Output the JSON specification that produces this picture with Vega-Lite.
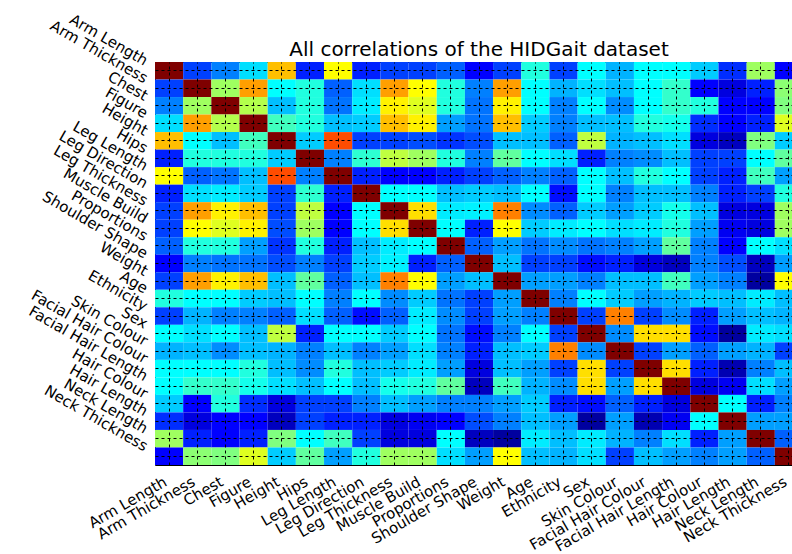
{
  "$schema": "https://vega.github.io/schema/vega-lite/v6.json",
  "autosize": "none",
  "padding": {"left": 155, "top": 62, "right": -11, "bottom": 89},
  "width": 648,
  "height": 403,
  "background": "white",
  "title": {"text": "All correlations of the HIDGait dataset", "font": "DejaVu Sans", "fontSize": 20, "fontWeight": "normal", "color": "black", "offset": -48, "frame": "group"},
  "config": {"view": {"stroke": "black", "strokeWidth": 1}},
  "datasets": {
    "names": [
      {"k": 0, "n": "Arm Length"}, {"k": 1, "n": "Arm Thickness"}, {"k": 2, "n": "Chest"}, {"k": 3, "n": "Figure"},
      {"k": 4, "n": "Height"}, {"k": 5, "n": "Hips"}, {"k": 6, "n": "Leg Length"}, {"k": 7, "n": "Leg Direction"},
      {"k": 8, "n": "Leg Thickness"}, {"k": 9, "n": "Muscle Build"}, {"k": 10, "n": "Proportions"}, {"k": 11, "n": "Shoulder Shape"},
      {"k": 12, "n": "Weight"}, {"k": 13, "n": "Age"}, {"k": 14, "n": "Ethnicity"}, {"k": 15, "n": "Sex"},
      {"k": 16, "n": "Skin Colour"}, {"k": 17, "n": "Facial Hair Colour"}, {"k": 18, "n": "Facial Hair Length"}, {"k": 19, "n": "Hair Colour"},
      {"k": 20, "n": "Hair Length"}, {"k": 21, "n": "Neck Length"}, {"k": 22, "n": "Neck Thickness"}
    ],
    "corr": [
{"i":0,"j":0,"v":1},{"i":0,"j":1,"v":-0.3},{"i":0,"j":2,"v":-0.2},{"i":0,"j":3,"v":-0.05},{"i":0,"j":4,"v":0.5},{"i":0,"j":5,"v":-0.35},{"i":0,"j":6,"v":0.4},{"i":0,"j":7,"v":-0.35},{"i":0,"j":8,"v":-0.3},{"i":0,"j":9,"v":-0.3},{"i":0,"j":10,"v":-0.25},{"i":0,"j":11,"v":-0.4},{"i":0,"j":12,"v":-0.3},{"i":0,"j":13,"v":0.05},{"i":0,"j":14,"v":-0.3},{"i":0,"j":15,"v":0.0},{"i":0,"j":16,"v":-0.12},{"i":0,"j":17,"v":0.0},{"i":0,"j":18,"v":0.0},{"i":0,"j":19,"v":-0.08},{"i":0,"j":20,"v":-0.33},{"i":0,"j":21,"v":0.25},{"i":0,"j":22,"v":-0.4},
{"i":1,"j":0,"v":-0.3},{"i":1,"j":1,"v":1},{"i":1,"j":2,"v":0.25},{"i":1,"j":3,"v":0.55},{"i":1,"j":4,"v":0.0},{"i":1,"j":5,"v":0.05},{"i":1,"j":6,"v":-0.25},{"i":1,"j":7,"v":-0.05},{"i":1,"j":8,"v":0.55},{"i":1,"j":9,"v":0.4},{"i":1,"j":10,"v":0.05},{"i":1,"j":11,"v":-0.2},{"i":1,"j":12,"v":0.55},{"i":1,"j":13,"v":0.0},{"i":1,"j":14,"v":-0.12},{"i":1,"j":15,"v":-0.05},{"i":1,"j":16,"v":-0.1},{"i":1,"j":17,"v":0.0},{"i":1,"j":18,"v":0.08},{"i":1,"j":19,"v":-0.4},{"i":1,"j":20,"v":-0.45},{"i":1,"j":21,"v":-0.35},{"i":1,"j":22,"v":0.22},
{"i":2,"j":0,"v":-0.2},{"i":2,"j":1,"v":0.25},{"i":2,"j":2,"v":1},{"i":2,"j":3,"v":0.28},{"i":2,"j":4,"v":-0.1},{"i":2,"j":5,"v":0.05},{"i":2,"j":6,"v":-0.22},{"i":2,"j":7,"v":-0.03},{"i":2,"j":8,"v":0.42},{"i":2,"j":9,"v":0.35},{"i":2,"j":10,"v":0.05},{"i":2,"j":11,"v":-0.22},{"i":2,"j":12,"v":0.42},{"i":2,"j":13,"v":0.0},{"i":2,"j":14,"v":-0.2},{"i":2,"j":15,"v":0.0},{"i":2,"j":16,"v":-0.18},{"i":2,"j":17,"v":0.0},{"i":2,"j":18,"v":0.08},{"i":2,"j":19,"v":0.05},{"i":2,"j":20,"v":-0.4},{"i":2,"j":21,"v":-0.4},{"i":2,"j":22,"v":0.2},
{"i":3,"j":0,"v":-0.05},{"i":3,"j":1,"v":0.55},{"i":3,"j":2,"v":0.28},{"i":3,"j":3,"v":1},{"i":3,"j":4,"v":0.1},{"i":3,"j":5,"v":0.05},{"i":3,"j":6,"v":-0.1},{"i":3,"j":7,"v":-0.08},{"i":3,"j":8,"v":0.5},{"i":3,"j":9,"v":0.42},{"i":3,"j":10,"v":-0.15},{"i":3,"j":11,"v":-0.22},{"i":3,"j":12,"v":0.5},{"i":3,"j":13,"v":-0.08},{"i":3,"j":14,"v":-0.2},{"i":3,"j":15,"v":-0.1},{"i":3,"j":16,"v":-0.1},{"i":3,"j":17,"v":0.05},{"i":3,"j":18,"v":0.03},{"i":3,"j":19,"v":-0.33},{"i":3,"j":20,"v":-0.4},{"i":3,"j":21,"v":-0.35},{"i":3,"j":22,"v":0.35},
{"i":4,"j":0,"v":0.5},{"i":4,"j":1,"v":0.0},{"i":4,"j":2,"v":-0.1},{"i":4,"j":3,"v":0.1},{"i":4,"j":4,"v":1},{"i":4,"j":5,"v":-0.08},{"i":4,"j":6,"v":0.68},{"i":4,"j":7,"v":-0.3},{"i":4,"j":8,"v":-0.3},{"i":4,"j":9,"v":-0.28},{"i":4,"j":10,"v":-0.32},{"i":4,"j":11,"v":-0.28},{"i":4,"j":12,"v":-0.1},{"i":4,"j":13,"v":-0.1},{"i":4,"j":14,"v":-0.25},{"i":4,"j":15,"v":0.3},{"i":4,"j":16,"v":-0.12},{"i":4,"j":17,"v":-0.1},{"i":4,"j":18,"v":-0.05},{"i":4,"j":19,"v":-0.45},{"i":4,"j":20,"v":-0.5},{"i":4,"j":21,"v":0.2},{"i":4,"j":22,"v":-0.08},
{"i":5,"j":0,"v":-0.35},{"i":5,"j":1,"v":0.05},{"i":5,"j":2,"v":0.05},{"i":5,"j":3,"v":0.05},{"i":5,"j":4,"v":-0.08},{"i":5,"j":5,"v":1},{"i":5,"j":6,"v":-0.2},{"i":5,"j":7,"v":0.07},{"i":5,"j":8,"v":0.3},{"i":5,"j":9,"v":0.25},{"i":5,"j":10,"v":0.05},{"i":5,"j":11,"v":-0.2},{"i":5,"j":12,"v":0.15},{"i":5,"j":13,"v":0.0},{"i":5,"j":14,"v":-0.05},{"i":5,"j":15,"v":-0.35},{"i":5,"j":16,"v":-0.2},{"i":5,"j":17,"v":-0.18},{"i":5,"j":18,"v":-0.1},{"i":5,"j":19,"v":-0.3},{"i":5,"j":20,"v":-0.3},{"i":5,"j":21,"v":0.0},{"i":5,"j":22,"v":0.15},
{"i":6,"j":0,"v":0.4},{"i":6,"j":1,"v":-0.25},{"i":6,"j":2,"v":-0.22},{"i":6,"j":3,"v":-0.1},{"i":6,"j":4,"v":0.68},{"i":6,"j":5,"v":-0.2},{"i":6,"j":6,"v":1},{"i":6,"j":7,"v":-0.35},{"i":6,"j":8,"v":-0.4},{"i":6,"j":9,"v":-0.4},{"i":6,"j":10,"v":-0.35},{"i":6,"j":11,"v":-0.3},{"i":6,"j":12,"v":-0.25},{"i":6,"j":13,"v":-0.2},{"i":6,"j":14,"v":-0.25},{"i":6,"j":15,"v":0.0},{"i":6,"j":16,"v":-0.1},{"i":6,"j":17,"v":0.05},{"i":6,"j":18,"v":0.0},{"i":6,"j":19,"v":-0.3},{"i":6,"j":20,"v":-0.35},{"i":6,"j":21,"v":0.1},{"i":6,"j":22,"v":-0.15},
{"i":7,"j":0,"v":-0.35},{"i":7,"j":1,"v":-0.05},{"i":7,"j":2,"v":-0.03},{"i":7,"j":3,"v":-0.08},{"i":7,"j":4,"v":-0.3},{"i":7,"j":5,"v":0.07},{"i":7,"j":6,"v":-0.35},{"i":7,"j":7,"v":1},{"i":7,"j":8,"v":0.0},{"i":7,"j":9,"v":0.0},{"i":7,"j":10,"v":-0.1},{"i":7,"j":11,"v":-0.08},{"i":7,"j":12,"v":-0.1},{"i":7,"j":13,"v":0.0},{"i":7,"j":14,"v":-0.38},{"i":7,"j":15,"v":0.0},{"i":7,"j":16,"v":-0.2},{"i":7,"j":17,"v":-0.1},{"i":7,"j":18,"v":-0.1},{"i":7,"j":19,"v":-0.2},{"i":7,"j":20,"v":-0.35},{"i":7,"j":21,"v":-0.3},{"i":7,"j":22,"v":0.05},
{"i":8,"j":0,"v":-0.3},{"i":8,"j":1,"v":0.55},{"i":8,"j":2,"v":0.42},{"i":8,"j":3,"v":0.5},{"i":8,"j":4,"v":-0.3},{"i":8,"j":5,"v":0.3},{"i":8,"j":6,"v":-0.4},{"i":8,"j":7,"v":0.0},{"i":8,"j":8,"v":1},{"i":8,"j":9,"v":0.45},{"i":8,"j":10,"v":-0.03},{"i":8,"j":11,"v":-0.02},{"i":8,"j":12,"v":0.6},{"i":8,"j":13,"v":-0.18},{"i":8,"j":14,"v":-0.25},{"i":8,"j":15,"v":-0.08},{"i":8,"j":16,"v":-0.15},{"i":8,"j":17,"v":-0.08},{"i":8,"j":18,"v":0.03},{"i":8,"j":19,"v":-0.1},{"i":8,"j":20,"v":-0.45},{"i":8,"j":21,"v":-0.45},{"i":8,"j":22,"v":0.25},
{"i":9,"j":0,"v":-0.3},{"i":9,"j":1,"v":0.4},{"i":9,"j":2,"v":0.35},{"i":9,"j":3,"v":0.42},{"i":9,"j":4,"v":-0.28},{"i":9,"j":5,"v":0.25},{"i":9,"j":6,"v":-0.4},{"i":9,"j":7,"v":0.0},{"i":9,"j":8,"v":0.45},{"i":9,"j":9,"v":1},{"i":9,"j":10,"v":0.0},{"i":9,"j":11,"v":-0.35},{"i":9,"j":12,"v":0.4},{"i":9,"j":13,"v":-0.08},{"i":9,"j":14,"v":-0.03},{"i":9,"j":15,"v":0.0},{"i":9,"j":16,"v":-0.05},{"i":9,"j":17,"v":-0.03},{"i":9,"j":18,"v":0.05},{"i":9,"j":19,"v":-0.15},{"i":9,"j":20,"v":-0.42},{"i":9,"j":21,"v":-0.45},{"i":9,"j":22,"v":0.25},
{"i":10,"j":0,"v":-0.25},{"i":10,"j":1,"v":0.05},{"i":10,"j":2,"v":0.05},{"i":10,"j":3,"v":-0.15},{"i":10,"j":4,"v":-0.32},{"i":10,"j":5,"v":0.05},{"i":10,"j":6,"v":-0.35},{"i":10,"j":7,"v":-0.1},{"i":10,"j":8,"v":-0.03},{"i":10,"j":9,"v":0.0},{"i":10,"j":10,"v":1},{"i":10,"j":11,"v":-0.25},{"i":10,"j":12,"v":-0.15},{"i":10,"j":13,"v":-0.22},{"i":10,"j":14,"v":-0.18},{"i":10,"j":15,"v":-0.22},{"i":10,"j":16,"v":-0.2},{"i":10,"j":17,"v":-0.15},{"i":10,"j":18,"v":0.15},{"i":10,"j":19,"v":-0.2},{"i":10,"j":20,"v":-0.4},{"i":10,"j":21,"v":0.0},{"i":10,"j":22,"v":-0.05},
{"i":11,"j":0,"v":-0.4},{"i":11,"j":1,"v":-0.2},{"i":11,"j":2,"v":-0.22},{"i":11,"j":3,"v":-0.22},{"i":11,"j":4,"v":-0.28},{"i":11,"j":5,"v":-0.2},{"i":11,"j":6,"v":-0.3},{"i":11,"j":7,"v":-0.08},{"i":11,"j":8,"v":-0.02},{"i":11,"j":9,"v":-0.35},{"i":11,"j":10,"v":-0.25},{"i":11,"j":11,"v":1},{"i":11,"j":12,"v":-0.1},{"i":11,"j":13,"v":-0.3},{"i":11,"j":14,"v":-0.3},{"i":11,"j":15,"v":-0.38},{"i":11,"j":16,"v":-0.35},{"i":11,"j":17,"v":-0.45},{"i":11,"j":18,"v":-0.5},{"i":11,"j":19,"v":-0.2},{"i":11,"j":20,"v":-0.28},{"i":11,"j":21,"v":-0.5},{"i":11,"j":22,"v":-0.15},
{"i":12,"j":0,"v":-0.3},{"i":12,"j":1,"v":0.55},{"i":12,"j":2,"v":0.42},{"i":12,"j":3,"v":0.5},{"i":12,"j":4,"v":-0.1},{"i":12,"j":5,"v":0.15},{"i":12,"j":6,"v":-0.25},{"i":12,"j":7,"v":-0.1},{"i":12,"j":8,"v":0.6},{"i":12,"j":9,"v":0.4},{"i":12,"j":10,"v":-0.15},{"i":12,"j":11,"v":-0.1},{"i":12,"j":12,"v":1},{"i":12,"j":13,"v":-0.15},{"i":12,"j":14,"v":-0.15},{"i":12,"j":15,"v":-0.2},{"i":12,"j":16,"v":-0.1},{"i":12,"j":17,"v":-0.1},{"i":12,"j":18,"v":0.1},{"i":12,"j":19,"v":-0.15},{"i":12,"j":20,"v":-0.2},{"i":12,"j":21,"v":-0.55},{"i":12,"j":22,"v":0.4},
{"i":13,"j":0,"v":0.05},{"i":13,"j":1,"v":0.0},{"i":13,"j":2,"v":0.0},{"i":13,"j":3,"v":-0.08},{"i":13,"j":4,"v":-0.1},{"i":13,"j":5,"v":0.0},{"i":13,"j":6,"v":-0.2},{"i":13,"j":7,"v":0.0},{"i":13,"j":8,"v":-0.18},{"i":13,"j":9,"v":-0.08},{"i":13,"j":10,"v":-0.22},{"i":13,"j":11,"v":-0.3},{"i":13,"j":12,"v":-0.15},{"i":13,"j":13,"v":1},{"i":13,"j":14,"v":-0.2},{"i":13,"j":15,"v":0.0},{"i":13,"j":16,"v":-0.08},{"i":13,"j":17,"v":-0.15},{"i":13,"j":18,"v":-0.12},{"i":13,"j":19,"v":-0.08},{"i":13,"j":20,"v":-0.1},{"i":13,"j":21,"v":-0.03},{"i":13,"j":22,"v":-0.1},
{"i":14,"j":0,"v":-0.3},{"i":14,"j":1,"v":-0.12},{"i":14,"j":2,"v":-0.2},{"i":14,"j":3,"v":-0.2},{"i":14,"j":4,"v":-0.25},{"i":14,"j":5,"v":-0.05},{"i":14,"j":6,"v":-0.25},{"i":14,"j":7,"v":-0.38},{"i":14,"j":8,"v":-0.25},{"i":14,"j":9,"v":-0.03},{"i":14,"j":10,"v":-0.18},{"i":14,"j":11,"v":-0.3},{"i":14,"j":12,"v":-0.15},{"i":14,"j":13,"v":-0.2},{"i":14,"j":14,"v":1},{"i":14,"j":15,"v":-0.3},{"i":14,"j":16,"v":0.6},{"i":14,"j":17,"v":-0.3},{"i":14,"j":18,"v":-0.18},{"i":14,"j":19,"v":-0.35},{"i":14,"j":20,"v":-0.15},{"i":14,"j":21,"v":-0.1},{"i":14,"j":22,"v":-0.12},
{"i":15,"j":0,"v":0.0},{"i":15,"j":1,"v":-0.05},{"i":15,"j":2,"v":0.0},{"i":15,"j":3,"v":-0.1},{"i":15,"j":4,"v":0.3},{"i":15,"j":5,"v":-0.35},{"i":15,"j":6,"v":0.0},{"i":15,"j":7,"v":0.0},{"i":15,"j":8,"v":-0.08},{"i":15,"j":9,"v":0.0},{"i":15,"j":10,"v":-0.22},{"i":15,"j":11,"v":-0.38},{"i":15,"j":12,"v":-0.2},{"i":15,"j":13,"v":0.0},{"i":15,"j":14,"v":-0.3},{"i":15,"j":15,"v":1},{"i":15,"j":16,"v":-0.18},{"i":15,"j":17,"v":0.45},{"i":15,"j":18,"v":0.45},{"i":15,"j":19,"v":-0.38},{"i":15,"j":20,"v":-0.55},{"i":15,"j":21,"v":-0.03},{"i":15,"j":22,"v":-0.05},
{"i":16,"j":0,"v":-0.12},{"i":16,"j":1,"v":-0.1},{"i":16,"j":2,"v":-0.18},{"i":16,"j":3,"v":-0.1},{"i":16,"j":4,"v":-0.12},{"i":16,"j":5,"v":-0.2},{"i":16,"j":6,"v":-0.1},{"i":16,"j":7,"v":-0.2},{"i":16,"j":8,"v":-0.15},{"i":16,"j":9,"v":-0.05},{"i":16,"j":10,"v":-0.2},{"i":16,"j":11,"v":-0.35},{"i":16,"j":12,"v":-0.1},{"i":16,"j":13,"v":-0.08},{"i":16,"j":14,"v":0.6},{"i":16,"j":15,"v":-0.18},{"i":16,"j":16,"v":1},{"i":16,"j":17,"v":-0.3},{"i":16,"j":18,"v":-0.15},{"i":16,"j":19,"v":-0.25},{"i":16,"j":20,"v":-0.15},{"i":16,"j":21,"v":-0.12},{"i":16,"j":22,"v":-0.3},
{"i":17,"j":0,"v":0.0},{"i":17,"j":1,"v":0.0},{"i":17,"j":2,"v":0.0},{"i":17,"j":3,"v":0.05},{"i":17,"j":4,"v":-0.1},{"i":17,"j":5,"v":-0.18},{"i":17,"j":6,"v":0.05},{"i":17,"j":7,"v":-0.1},{"i":17,"j":8,"v":-0.08},{"i":17,"j":9,"v":-0.03},{"i":17,"j":10,"v":-0.15},{"i":17,"j":11,"v":-0.45},{"i":17,"j":12,"v":-0.1},{"i":17,"j":13,"v":-0.15},{"i":17,"j":14,"v":-0.3},{"i":17,"j":15,"v":0.45},{"i":17,"j":16,"v":-0.3},{"i":17,"j":17,"v":1},{"i":17,"j":18,"v":0.45},{"i":17,"j":19,"v":-0.35},{"i":17,"j":20,"v":-0.52},{"i":17,"j":21,"v":-0.2},{"i":17,"j":22,"v":-0.1},
{"i":18,"j":0,"v":0.0},{"i":18,"j":1,"v":0.08},{"i":18,"j":2,"v":0.08},{"i":18,"j":3,"v":0.03},{"i":18,"j":4,"v":-0.05},{"i":18,"j":5,"v":-0.1},{"i":18,"j":6,"v":0.0},{"i":18,"j":7,"v":-0.1},{"i":18,"j":8,"v":0.03},{"i":18,"j":9,"v":0.05},{"i":18,"j":10,"v":0.15},{"i":18,"j":11,"v":-0.5},{"i":18,"j":12,"v":0.1},{"i":18,"j":13,"v":-0.12},{"i":18,"j":14,"v":-0.18},{"i":18,"j":15,"v":0.45},{"i":18,"j":16,"v":-0.15},{"i":18,"j":17,"v":0.45},{"i":18,"j":18,"v":1},{"i":18,"j":19,"v":-0.45},{"i":18,"j":20,"v":-0.42},{"i":18,"j":21,"v":-0.05},{"i":18,"j":22,"v":-0.15},
{"i":19,"j":0,"v":-0.08},{"i":19,"j":1,"v":-0.4},{"i":19,"j":2,"v":0.05},{"i":19,"j":3,"v":-0.33},{"i":19,"j":4,"v":-0.45},{"i":19,"j":5,"v":-0.3},{"i":19,"j":6,"v":-0.3},{"i":19,"j":7,"v":-0.2},{"i":19,"j":8,"v":-0.1},{"i":19,"j":9,"v":-0.15},{"i":19,"j":10,"v":-0.2},{"i":19,"j":11,"v":-0.2},{"i":19,"j":12,"v":-0.15},{"i":19,"j":13,"v":-0.08},{"i":19,"j":14,"v":-0.35},{"i":19,"j":15,"v":-0.38},{"i":19,"j":16,"v":-0.25},{"i":19,"j":17,"v":-0.35},{"i":19,"j":18,"v":-0.45},{"i":19,"j":19,"v":1},{"i":19,"j":20,"v":0.0},{"i":19,"j":21,"v":-0.35},{"i":19,"j":22,"v":-0.2},
{"i":20,"j":0,"v":-0.33},{"i":20,"j":1,"v":-0.45},{"i":20,"j":2,"v":-0.4},{"i":20,"j":3,"v":-0.4},{"i":20,"j":4,"v":-0.5},{"i":20,"j":5,"v":-0.3},{"i":20,"j":6,"v":-0.35},{"i":20,"j":7,"v":-0.35},{"i":20,"j":8,"v":-0.45},{"i":20,"j":9,"v":-0.42},{"i":20,"j":10,"v":-0.4},{"i":20,"j":11,"v":-0.28},{"i":20,"j":12,"v":-0.2},{"i":20,"j":13,"v":-0.1},{"i":20,"j":14,"v":-0.15},{"i":20,"j":15,"v":-0.55},{"i":20,"j":16,"v":-0.15},{"i":20,"j":17,"v":-0.52},{"i":20,"j":18,"v":-0.42},{"i":20,"j":19,"v":0.0},{"i":20,"j":20,"v":1},{"i":20,"j":21,"v":-0.15},{"i":20,"j":22,"v":-0.15},
{"i":21,"j":0,"v":0.25},{"i":21,"j":1,"v":-0.35},{"i":21,"j":2,"v":-0.4},{"i":21,"j":3,"v":-0.35},{"i":21,"j":4,"v":0.2},{"i":21,"j":5,"v":0.0},{"i":21,"j":6,"v":0.1},{"i":21,"j":7,"v":-0.3},{"i":21,"j":8,"v":-0.45},{"i":21,"j":9,"v":-0.45},{"i":21,"j":10,"v":0.0},{"i":21,"j":11,"v":-0.5},{"i":21,"j":12,"v":-0.55},{"i":21,"j":13,"v":-0.03},{"i":21,"j":14,"v":-0.1},{"i":21,"j":15,"v":-0.03},{"i":21,"j":16,"v":-0.12},{"i":21,"j":17,"v":-0.2},{"i":21,"j":18,"v":-0.05},{"i":21,"j":19,"v":-0.35},{"i":21,"j":20,"v":-0.15},{"i":21,"j":21,"v":1},{"i":21,"j":22,"v":-0.25},
{"i":22,"j":0,"v":-0.4},{"i":22,"j":1,"v":0.22},{"i":22,"j":2,"v":0.2},{"i":22,"j":3,"v":0.35},{"i":22,"j":4,"v":-0.08},{"i":22,"j":5,"v":0.15},{"i":22,"j":6,"v":-0.15},{"i":22,"j":7,"v":0.05},{"i":22,"j":8,"v":0.25},{"i":22,"j":9,"v":0.25},{"i":22,"j":10,"v":-0.05},{"i":22,"j":11,"v":-0.15},{"i":22,"j":12,"v":0.4},{"i":22,"j":13,"v":-0.1},{"i":22,"j":14,"v":-0.12},{"i":22,"j":15,"v":-0.05},{"i":22,"j":16,"v":-0.3},{"i":22,"j":17,"v":-0.1},{"i":22,"j":18,"v":-0.15},{"i":22,"j":19,"v":-0.2},{"i":22,"j":20,"v":-0.15},{"i":22,"j":21,"v":-0.25},{"i":22,"j":22,"v":1}
    ]
  },
  "data": {"name": "corr"},
  "transform": [
    {"lookup": "i", "from": {"data": {"name": "names"}, "key": "k", "fields": ["n"]}, "as": ["rowName"]},
    {"lookup": "j", "from": {"data": {"name": "names"}, "key": "k", "fields": ["n"]}, "as": ["colName"]}
  ],
  "mark": {"type": "rect"},
  "encoding": {
    "x": {
      "field": "colName", "type": "nominal", "sort": {"field": "j", "op": "min"}, "title": null,
      "scale": {"paddingInner": 0, "paddingOuter": 0},
      "axis": {"orient": "bottom", "labelAngle": -30, "labelAlign": "right", "labelBaseline": "top", "labelFont": "DejaVu Sans", "labelFontSize": 15, "labelColor": "black", "labelPadding": 9, "labelOffset": -7, "labelOverlap": false, "labelLimit": 0, "domain": false, "ticks": false, "grid": true, "gridColor": "black", "gridDash": [3, 3], "gridWidth": 1, "gridOpacity": 1, "bandPosition": 0.5, "zindex": 1}
    },
    "y": {
      "field": "rowName", "type": "nominal", "sort": {"field": "i", "op": "min"}, "title": null,
      "scale": {"paddingInner": 0, "paddingOuter": 0},
      "axis": {"orient": "left", "labelAngle": 30, "labelAlign": "right", "labelBaseline": "middle", "labelOffset": -9, "labelFont": "DejaVu Sans", "labelFontSize": 15, "labelColor": "black", "labelPadding": 9, "labelOverlap": false, "labelLimit": 0, "domain": false, "ticks": false, "grid": true, "gridColor": "black", "gridDash": [3, 3], "gridWidth": 1, "gridOpacity": 1, "bandPosition": 0.5, "zindex": 1}
    },
    "color": {
      "field": "v", "type": "quantitative", "legend": null,
      "scale": {"domain": [-0.6, -0.4, 0, 0.4, 0.8, 1], "range": ["#00007f", "#0000ff", "#00ffff", "#ffff00", "#ff0000", "#7f0000"], "interpolate": "rgb"}
    }
  }
}
